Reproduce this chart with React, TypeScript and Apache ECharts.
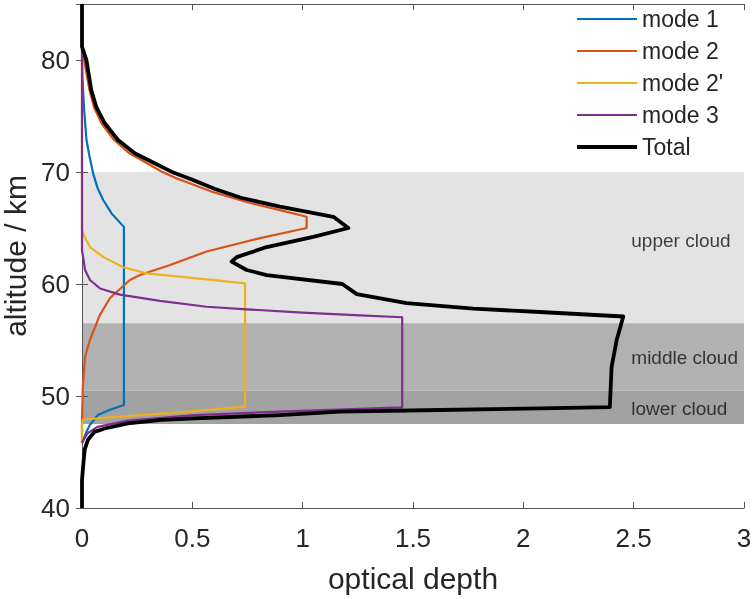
import React, { useEffect, useRef } from "react";
import * as echarts from "echarts";

// Optical depth profiles (x = optical depth, y = altitude in km)
const mode1: [number, number][] = [
  [0, 81], [0.002, 78.5], [0.005, 77.3], [0.01, 75.5], [0.02, 72.9], [0.033, 71.5],
  [0.05, 69.9], [0.07, 68.6], [0.096, 67.5], [0.134, 66.3], [0.19, 65.1],
  [0.19, 49.2], [0.13, 48.8], [0.072, 48.3], [0.035, 47.4], [0.02, 46.8], [0.008, 46.2], [0, 45.8],
];

const mode2: [number, number][] = [
  [0, 81], [0.01, 80], [0.02, 78.8], [0.034, 77.3], [0.054, 75.8], [0.088, 74.35],
  [0.145, 72.86], [0.215, 71.67], [0.295, 70.78], [0.36, 70.05], [0.42, 69.5], [0.5, 68.9],
  [0.595, 68.2], [0.75, 67.3], [0.897, 66.6], [1.018, 66.0], [1.018, 65.0],
  [0.807, 64.1], [0.565, 62.9], [0.399, 61.7], [0.263, 60.8], [0.217, 60.36],
  [0.127, 58.75], [0.08, 57.2], [0.036, 55], [0.014, 53.5], [0.004, 51], [0, 47.9], [0, 45.8],
];

const mode2p: [number, number][] = [
  [0, 81], [0, 64.8], [0.012, 64.2], [0.036, 63.3], [0.097, 62.4], [0.187, 61.5],
  [0.293, 60.95], [0.52, 60.5], [0.739, 60.06], [0.739, 49.05], [0.51, 48.65],
  [0.006, 47.9], [0, 47.5], [0, 45.8],
];

const mode3: [number, number][] = [
  [0, 81], [0, 63], [0.014, 61.25], [0.036, 60.36], [0.082, 59.6], [0.172, 59.05],
  [0.353, 58.5], [0.565, 57.97], [0.746, 57.74], [1.0, 57.45], [1.26, 57.2],
  [1.451, 57.03], [1.451, 48.99], [0.897, 48.6], [0.51, 48.3], [0.208, 47.8],
  [0.07, 47.25], [0.027, 46.7], [0.01, 46.2], [0, 45.8],
];

const total: [number, number][] = [
  [0, 85], [0, 81.2], [0.02, 80], [0.03, 78.8], [0.042, 77.3], [0.065, 75.8],
  [0.103, 74.35], [0.163, 72.86], [0.239, 71.67], [0.329, 70.78], [0.405, 70.03],
  [0.495, 69.35], [0.6, 68.5], [0.72, 67.7], [0.897, 66.9], [1.139, 66.0], [1.207, 65.0],
  [1.048, 64.2], [0.837, 63.3], [0.701, 62.4], [0.678, 62.0], [0.746, 61.25],
  [0.837, 60.8], [1.18, 60.0], [1.245, 59.1], [1.471, 58.3], [1.773, 57.8],
  [2.075, 57.5], [2.453, 57.1], [2.423, 55.0], [2.4, 52.6], [2.392, 49.0],
  [2.075, 48.9], [1.622, 48.75], [1.169, 48.6], [0.897, 48.3], [0.51, 48.0],
  [0.36, 47.86], [0.208, 47.56], [0.103, 47.1], [0.057, 46.8], [0.027, 46.1],
  [0.012, 45.2], [0.005, 43.7], [0, 42.5], [0, 40],
];

const seriesNames = ["mode 1", "mode 2", "mode 2'", "mode 3", "Total"];
const seriesColors = ["#0072BD", "#D95319", "#EDB120", "#7E2F8E", "#000000"];
const seriesWidths = [2.2, 2.2, 2.2, 2.2, 3.8];

// Cloud layers
const bandNames = ["upper cloud", "middle cloud", "lower cloud"];
const bandTop = [70, 56.5, 50.5];
const bandBottom = [56.5, 50.5, 47.5];
const bandLabelAlt = [63.9, 53.4, 48.9];
const bandLabelX = 2.487;
const bandColors = ["#e3e3e3", "#b1b1b1", "#a2a2a2"];

const xTicks = { min: 0, max: 3, interval: 0.5 };
const yTicks = { min: 40, max: 85, interval: 10 };

const FONT = "'Liberation Sans', Arial, Helvetica, sans-serif";
const AXIS_COLOR = "#555555";
const TEXT_COLOR = "#262626";

// flat bar used as legend key, thickness follows the line width
const legendKey = (w: number) => `path://M0,0H60V${w}H0Z`;

export default function App() {
  const ref = useRef<HTMLDivElement>(null);

  useEffect(() => {
    if (!ref.current) return;
    const chart = echarts.init(ref.current, undefined, { renderer: "svg" });

    const profiles = [mode1, mode2, mode2p, mode3, total];

    const lineSeries = profiles.map((d, i) => ({
      name: seriesNames[i],
      type: "line",
      data: d,
      symbol: "none",
      showSymbol: false,
      z: 3 + i,
      lineStyle: { color: seriesColors[i], width: seriesWidths[i], join: "round" },
      itemStyle: { color: seriesColors[i] },
      silent: true,
    }));

    const option: any = {
      animation: false,
      textStyle: { fontFamily: FONT },
      grid: { left: 82, right: 10, top: 4, bottom: 91, outerBoundsMode: "none", containLabel: false },
      legend: {
        data: seriesNames.map((n, i) => ({ name: n, icon: legendKey(seriesWidths[i]) })),
        orient: "vertical",
        left: 572,
        top: 2,
        itemWidth: 60,
        itemHeight: 14,
        itemGap: 8,
        symbolKeepAspect: true,
        textStyle: { fontSize: 23, lineHeight: 24, color: TEXT_COLOR, fontFamily: FONT },
        selectedMode: false,
      },
      xAxis: [
        {
          type: "value",
          ...xTicks,
          name: "optical depth",
          nameLocation: "middle",
          nameGap: 55,
          nameTextStyle: { fontSize: 30, color: TEXT_COLOR, fontFamily: FONT },
          axisLine: { show: true, lineStyle: { color: AXIS_COLOR, width: 1 } },
          axisTick: { show: true, inside: true, length: 6, lineStyle: { color: AXIS_COLOR } },
          axisLabel: { fontSize: 26, color: TEXT_COLOR, margin: 17, fontFamily: FONT },
          splitLine: { show: false },
        },
        {
          type: "value",
          ...xTicks,
          position: "top",
          axisLine: { show: true, lineStyle: { color: AXIS_COLOR, width: 1 } },
          axisTick: { show: true, inside: true, length: 6, lineStyle: { color: AXIS_COLOR } },
          axisLabel: { show: false },
          splitLine: { show: false },
        },
      ],
      yAxis: [
        {
          type: "value",
          ...yTicks,
          name: "altitude / km",
          nameLocation: "middle",
          nameGap: 46,
          nameTextStyle: { fontSize: 30, color: TEXT_COLOR, fontFamily: FONT },
          axisLine: { show: true, lineStyle: { color: AXIS_COLOR, width: 1 } },
          axisTick: { show: true, inside: true, length: 6, lineStyle: { color: AXIS_COLOR } },
          axisLabel: { fontSize: 26, color: TEXT_COLOR, margin: 12, fontFamily: FONT, showMaxLabel: false },
          splitLine: { show: false },
        },
        {
          type: "value",
          ...yTicks,
          position: "right",
          axisLine: { show: true, lineStyle: { color: AXIS_COLOR, width: 1 } },
          axisTick: { show: true, inside: true, length: 6, lineStyle: { color: AXIS_COLOR } },
          axisLabel: { show: false },
          splitLine: { show: false },
        },
      ],
      series: [
        {
          name: "cloud layers",
          type: "scatter",
          z: 1,
          silent: true,
          symbol: "circle",
          symbolSize: 1,
          itemStyle: { color: "rgba(0,0,0,0)" },
          data: bandNames.map((n, i) => ({ value: [bandLabelX, bandLabelAlt[i]], name: n })),
          label: {
            show: true,
            position: "right",
            distance: 0,
            formatter: (p: any) => p.name,
            fontSize: 19,
            color: "#111111",
            fontFamily: FONT,
          },
          markArea: {
            silent: true,
            z: 0,
            data: bandNames.map((_, i) => [
              { coord: [xTicks.min, bandTop[i]], itemStyle: { color: bandColors[i], opacity: 1 } },
              { coord: [xTicks.max, bandBottom[i]] },
            ]),
          },
        },
        ...lineSeries,
      ],
    };

    chart.setOption(option);
    return () => chart.dispose();
  }, []);

  return (
    <div
      ref={ref}
      style={{ position: "fixed", left: 0, top: 0, width: 754, height: 599 }}
    />
  );
}
